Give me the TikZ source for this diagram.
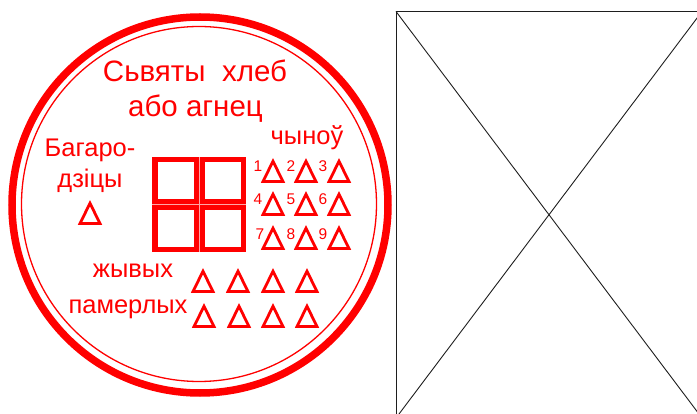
\documentclass[tikz,border=0pt]{standalone}
\usepackage{fontspec}
\setmainfont{Liberation Sans}
\usepackage{xcolor}
\usepackage{tikz}
\usetikzlibrary{positioning,calc}
\definecolor{seal}{RGB}{255,0,0}
\definecolor{sheet}{RGB}{30,30,30}

\begin{document}
\begin{tikzpicture}[
  x=1pt,y=-1pt,
  title/.style={text=seal,anchor=base,inner sep=0pt,font=\fontsize{29.5}{29.5}\selectfont},
  caption/.style={text=seal,anchor=base,inner sep=0pt,font=\fontsize{25.5}{25.5}\selectfont},
  numtag/.style={text=seal,anchor=base,inner sep=0pt,font=\fontsize{15.5}{15.5}\selectfont},
  cell/.style={draw=seal,line width=5.5pt},
  wedge/.style={draw=seal,line width=2.8pt},
  ring/.style={draw=seal,line width=7.5pt},
  thinring/.style={draw=seal,line width=1.3pt},
  cross/.style={draw=sheet,line width=.9pt}
]
\useasboundingbox (0,0) rectangle (697,414);
% outer seal
\draw[ring] (200,205) circle [radius=188];
\draw[thinring] (199,204) circle [radius=177.5];
% texts
\node[title] (bread) at (195,82) {Сьвяты\ \ хлеб};
\node[title] (lamb) at (195.5,117) {або агнец};
\node[caption] (mother1) at (90,157) {Багаро-};
\node[caption] (mother2) at (90,188) {дзіцы};
\node[caption] (ranks) at (307,145) {чыноў};
\node[caption] (living) at (133,278) {жывых};
\node[caption] (dead) at (128,314) {памерлых};
% central square of four cells
\draw[cell] (154.75,159.75) rectangle (196.25,201.75);
\draw[cell] (201.75,159.75) rectangle (243.25,201.75);
\draw[cell] (154.75,207.25) rectangle (196.25,249.75);
\draw[cell] (201.75,207.25) rectangle (243.25,249.75);
\draw[draw=seal!35,line width=.5pt] (199,157) -- (199,252.5);
\draw[draw=seal!35,line width=.5pt] (152,204.5) -- (246,204.5);
% triangles
\foreach \cx/\yt in {90/200, 273/158, 306/158, 339/158, 273/191, 306/191, 339/191, 273/225, 306/225, 339/225,
  203/268, 238/268, 273/268, 307/268, 204/303, 239/303, 273/303, 307/303}
  \draw[wedge] ({\cx},{\yt+3.2}) -- ({\cx+10},{\yt+23.6}) -- ({\cx-10},{\yt+23.6}) -- cycle;
% numbers
\node[numtag] (n1) at (258,172) {1};
\node[numtag] (n2) at (291,172) {2};
\node[numtag] (n3) at (323,172) {3};
\node[numtag] (n4) at (258,205) {4};
\node[numtag] (n5) at (291,205) {5};
\node[numtag] (n6) at (323,205) {6};
\node[numtag] (n7) at (260,240) {7};
\node[numtag] (n8) at (291,240) {8};
\node[numtag] (n9) at (323,240) {9};
% blank sheet
\draw[cross] (396,11.5) rectangle (702,418);
\draw[cross] (396,11.5) -- (702,418);
\draw[cross] (702,11.5) -- (396,418);
\end{tikzpicture}
\end{document}
